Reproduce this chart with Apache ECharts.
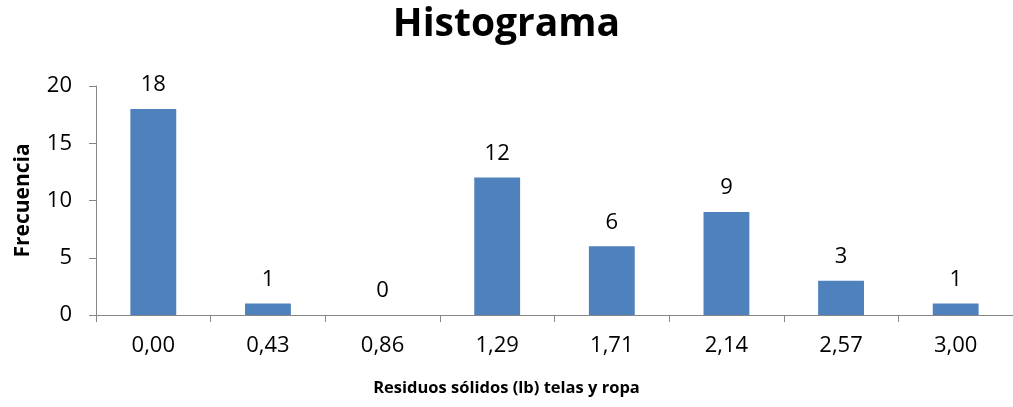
<!DOCTYPE html>
<html><head><meta charset="utf-8">
<script src="https://cdn.jsdelivr.net/npm/echarts@6/dist/echarts.min.js"></script>
<style>html,body{margin:0;padding:0;background:#fff}#c{width:1013px;height:407px}</style>
</head><body><div id="c"></div>
<script>
const categories = ['0,00','0,43','0,86','1,29','1,71','2,14','2,57','3,00'];
const frequencies = [18, 1, 0, 12, 6, 9, 3, 1];
const yTicks = [0, 5, 10, 15, 20];
const FONT = '"Open Sans", "Liberation Sans", sans-serif';
const chart = echarts.init(document.getElementById('c'), null, {renderer:'canvas'});
chart.setOption({
  animation: false,
  backgroundColor: '#fff',
  title: [
    {text: 'Histograma', left: 'center', top: 0,
     textStyle: {fontFamily: FONT, fontSize: 39, fontWeight: 'bold', color: '#000'}},
    {text: 'Residuos sólidos (lb) telas y ropa', left: 'center', top: 375,
     textStyle: {fontFamily: FONT, fontSize: 16.5, fontWeight: 'bold', color: '#000'}}
  ],
  grid: {left: 96, right: 0, top: 86, bottom: 92, containLabel: false},
  xAxis: {
    type: 'category', data: categories,
    axisLine: {lineStyle: {color: '#868686'}},
    axisTick: {show: true, alignWithLabel: false, length: 7, lineStyle: {color: '#868686'}},
    axisLabel: {fontFamily: FONT, fontSize: 22, color: '#000', margin: 20}
  },
  yAxis: {
    type: 'value', min: yTicks[0], max: yTicks[yTicks.length-1], interval: 5,
    name: 'Frecuencia', nameLocation: 'middle', nameGap: 62, nameRotate: 90,
    nameTextStyle: {fontFamily: FONT, fontSize: 21, fontWeight: 'bold', color: '#000'},
    axisLine: {show: true, lineStyle: {color: '#868686'}},
    axisTick: {show: true, length: 7, lineStyle: {color: '#868686'}},
    splitLine: {show: false},
    axisLabel: {fontFamily: FONT, fontSize: 22, color: '#000', margin: 24}
  },
  series: [{
    type: 'bar', data: frequencies, barWidth: '40%',
    itemStyle: {color: '#4F81BD'},
    label: {show: true, position: 'top', distance: 13, fontFamily: FONT, fontSize: 22, color: '#000'}
  }]
});
</script></body></html>
